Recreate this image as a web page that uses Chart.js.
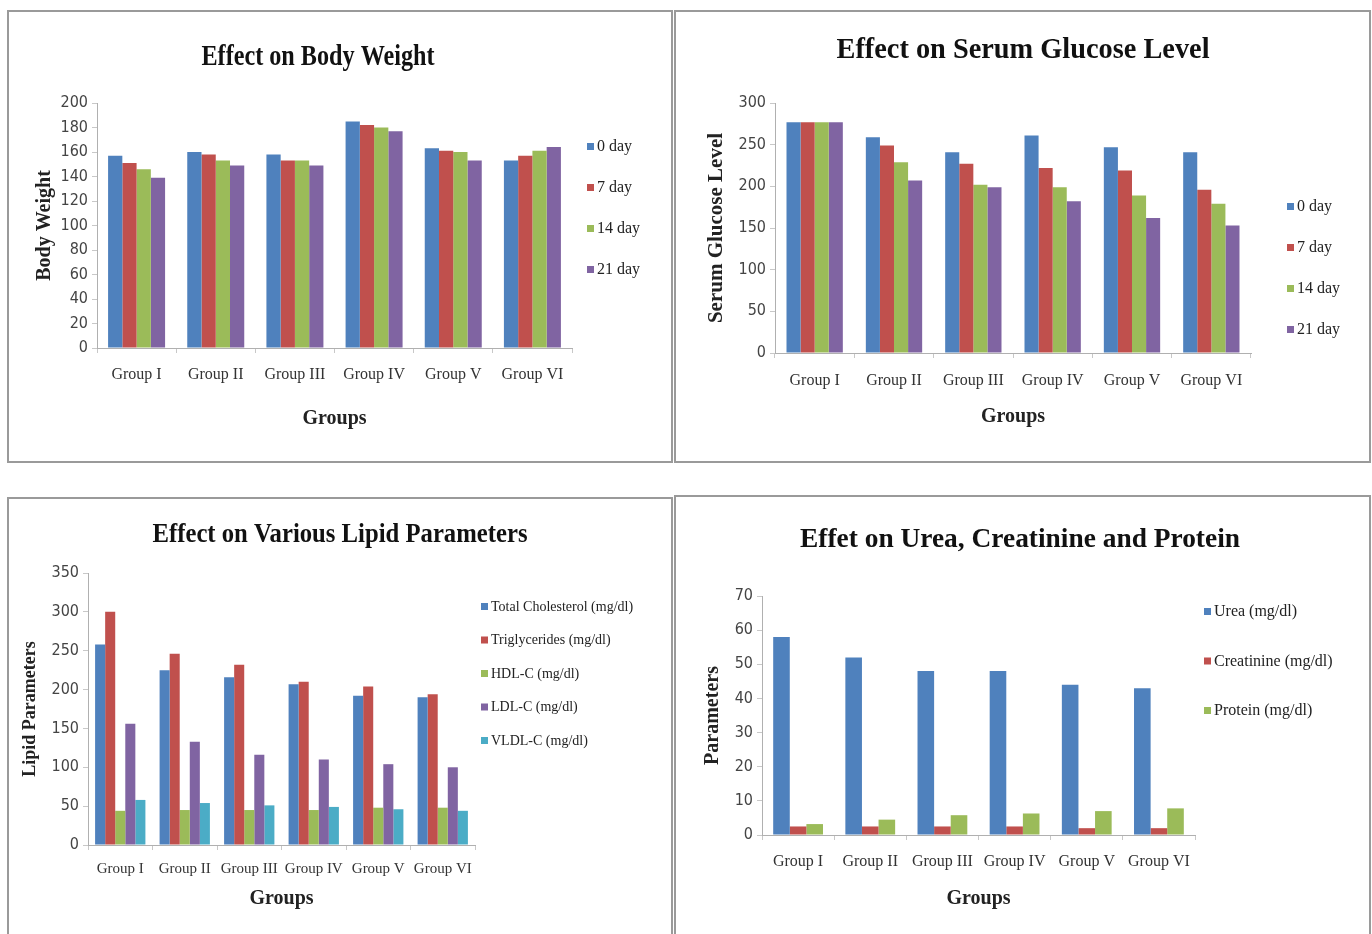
<!DOCTYPE html>
<html>
<head>
<meta charset="utf-8">
<script src="https://cdn.jsdelivr.net/npm/chart.js@4/dist/chart.umd.min.js"></script>
<style>
  body { margin: 0; background: #fff; width: 1372px; height: 934px; overflow: hidden; position: relative; }
  .panel { position: absolute; border: 2px solid #9a9a9a; box-sizing: border-box; }
  canvas { position: absolute; }
</style>
</head>
<body>
<div class="panel" style="left:7px;top:10px;width:666px;height:453px"></div>
<div class="panel" style="left:674px;top:10px;width:697px;height:453px"></div>
<div class="panel" style="left:7px;top:497px;width:666px;height:450px"></div>
<div class="panel" style="left:674px;top:495px;width:697px;height:450px"></div>
<canvas id="weight-chart" width="660" height="447" style="left:10px;top:13px"></canvas>
<canvas id="glucose-chart" width="693" height="447" style="left:676px;top:13px"></canvas>
<canvas id="lipid-chart" width="660" height="434" style="left:10px;top:500px"></canvas>
<canvas id="kidney-chart" width="693" height="436" style="left:676px;top:498px"></canvas>
<script>
// data
const groups = ['Group I', 'Group II', 'Group III', 'Group IV', 'Group V', 'Group VI'];
const dayLabels = ['0 day', '7 day', '14 day', '21 day'];

const weightDay0 = [157, 160, 158, 185, 163, 153];
const weightDay7 = [151, 158, 153, 182, 161, 157];
const weightDay14 = [146, 153, 153, 180, 160, 161];
const weightDay21 = [139, 149, 149, 177, 153, 164];

const glucoseDay0 = [277, 259, 241, 261, 247, 241];
const glucoseDay7 = [277, 249, 227, 222, 219, 196];
const glucoseDay14 = [277, 229, 202, 199, 189, 179];
const glucoseDay21 = [277, 207, 199, 182, 162, 153];

const lipidLabels = ['Total Cholesterol (mg/dl)', 'Triglycerides (mg/dl)', 'HDL-C (mg/dl)', 'LDL-C (mg/dl)', 'VLDL-C (mg/dl)'];
const totalCholesterol = [258, 225, 216, 207, 192, 190];
const triglycerides = [300, 246, 232, 210, 204, 194];
const hdlC = [44, 45, 45, 45, 48, 48];
const ldlC = [156, 133, 116, 110, 104, 100];
const vldlC = [58, 54, 51, 49, 46, 44];

const kidneyLabels = ['Urea (mg/dl)', 'Creatinine (mg/dl)', 'Protein (mg/dl)'];
const urea = [58, 52, 48, 48, 44, 43];
const creatinine = [2.5, 2.5, 2.5, 2.5, 2, 2];
const protein = [3.2, 4.5, 5.8, 6.3, 7, 7.8];

const colors = ['#4F81BD', '#C0504D', '#9BBB59', '#8064A2', '#4BACC6'];
const serif = '"Liberation Serif", "Times New Roman", serif';
const narrow = '"Liberation Sans Narrow", "Arial Narrow", "DejaVu Sans Condensed", sans-serif';

// draws the chart title and the small side legend at fixed spots
const panelText = {
    id: 'panelText',
    afterDraw(chart, args, opts) {
        const ctx = chart.ctx;
        ctx.save();
        const t = opts.title;
        ctx.font = `bold ${t.size}px ${serif}`;
        ctx.fillStyle = '#111';
        ctx.textAlign = 'center';
        ctx.textBaseline = 'middle';
        ctx.fillText(t.text, t.x, t.y, t.maxWidth);

        const lg = opts.legend;
        ctx.font = `${lg.size}px ${serif}`;
        ctx.textAlign = 'left';
        chart.data.datasets.forEach((ds, i) => {
            const y = lg.y + i * lg.gap;
            ctx.fillStyle = ds.backgroundColor;
            ctx.fillRect(lg.x, y - 4, 7, 7);
            ctx.fillStyle = '#222';
            ctx.fillText(ds.label, lg.x + 10, y, lg.maxWidth);
        });
        ctx.restore();
    }
};

function makeDatasets(labels, series) {
    return series.map((values, i) => ({
        label: labels[i],
        data: values,
        backgroundColor: colors[i],
        borderWidth: 0,
        barPercentage: 1,
    }));
}

function createGroupedBarChart(canvasId, datasets, cfg) {
    const ctx = document.getElementById(canvasId).getContext('2d');
    return new Chart(ctx, {
        type: 'bar',
        data: { labels: groups, datasets: datasets },
        plugins: [panelText],
        options: {
            responsive: false,
            animation: false,
            datasets: { bar: { categoryPercentage: cfg.catPct } },
            layout: { padding: { top: cfg.top, right: cfg.right, left: 0, bottom: 0 } },
            scales: {
                x: {
                    afterFit: (scale) => { scale.height = cfg.xHeight; },
                    grid: { drawOnChartArea: false, tickLength: 5, color: '#c8c8c8' },
                    border: { color: '#b0b0b0' },
                    ticks: {
                        autoSkip: false, maxRotation: 0, minRotation: 0,
                        padding: cfg.xPad, color: '#333',
                        font: { family: serif, size: cfg.xFont },
                    },
                    title: {
                        display: true, text: 'Groups', color: '#222',
                        font: { family: serif, size: 20, weight: 'bold' },
                        padding: { top: 0, bottom: cfg.xTitlePad },
                    },
                },
                y: {
                    min: 0, max: cfg.max,
                    afterFit: (scale) => { scale.width = cfg.yWidth; },
                    grid: { drawOnChartArea: false, tickLength: 5, color: '#c8c8c8' },
                    border: { color: '#b0b0b0' },
                    ticks: { stepSize: cfg.step, padding: 4, color: '#444', font: { family: narrow, size: 16 } },
                    title: {
                        display: true, text: cfg.yTitle, color: '#222',
                        font: { family: serif, size: cfg.yTitleSize, weight: 'bold' },
                        padding: { top: cfg.yTitlePad, bottom: 0 },
                    },
                },
            },
            plugins: {
                legend: { display: false },
                tooltip: { enabled: false },
                panelText: { title: cfg.title, legend: cfg.legend },
            },
        },
    });
}

createGroupedBarChart('weight-chart',
    makeDatasets(dayLabels, [weightDay0, weightDay7, weightDay14, weightDay21]), {
    catPct: 0.72, top: 90, right: 98, yWidth: 87, xHeight: 112,
    max: 200, step: 20, xPad: 12, xFont: 16, xTitlePad: 29,
    yTitle: 'Body Weight', yTitleSize: 20, yTitlePad: 23,
    title: { text: 'Effect on Body Weight', x: 308, y: 44, size: 30, maxWidth: 233 },
    legend: { x: 577, y: 134, gap: 41, size: 16, maxWidth: 70 },
});

createGroupedBarChart('glucose-chart',
    makeDatasets(dayLabels, [glucoseDay0, glucoseDay7, glucoseDay14, glucoseDay21]), {
    catPct: 0.71, top: 90, right: 118, yWidth: 99, xHeight: 107,
    max: 300, step: 50, xPad: 13, xFont: 16, xTitlePad: 31,
    yTitle: 'Serum Glucose Level', yTitleSize: 21, yTitlePad: 28,
    title: { text: 'Effect on Serum Glucose Level', x: 347, y: 37, size: 30, maxWidth: 373 },
    legend: { x: 611, y: 194, gap: 41, size: 16, maxWidth: 75 },
});

createGroupedBarChart('lipid-chart',
    makeDatasets(lipidLabels, [totalCholesterol, triglycerides, hdlC, ldlC, vldlC]), {
    catPct: 0.78, top: 73, right: 195, yWidth: 78, xHeight: 89,
    max: 350, step: 50, xPad: 10, xFont: 15, xTitlePad: 23,
    yTitle: 'Lipid Parameters', yTitleSize: 18, yTitlePad: 10,
    title: { text: 'Effect on Various Lipid Parameters', x: 330, y: 35, size: 28, maxWidth: 375 },
    legend: { x: 471, y: 107, gap: 33.5, size: 14, maxWidth: 172 },
});

createGroupedBarChart('kidney-chart',
    makeDatasets(kidneyLabels, [urea, creatinine, protein]), {
    catPct: 0.69, top: 98, right: 174, yWidth: 86, xHeight: 99,
    max: 70, step: 10, xPad: 12, xFont: 16, xTitlePad: 23,
    yTitle: 'Parameters', yTitleSize: 20, yTitlePad: 25,
    title: { text: 'Effet on Urea, Creatinine and Protein', x: 344, y: 42, size: 28, maxWidth: 440 },
    legend: { x: 528, y: 114, gap: 49.5, size: 16, maxWidth: 150 },
});
</script>
</body>
</html>
